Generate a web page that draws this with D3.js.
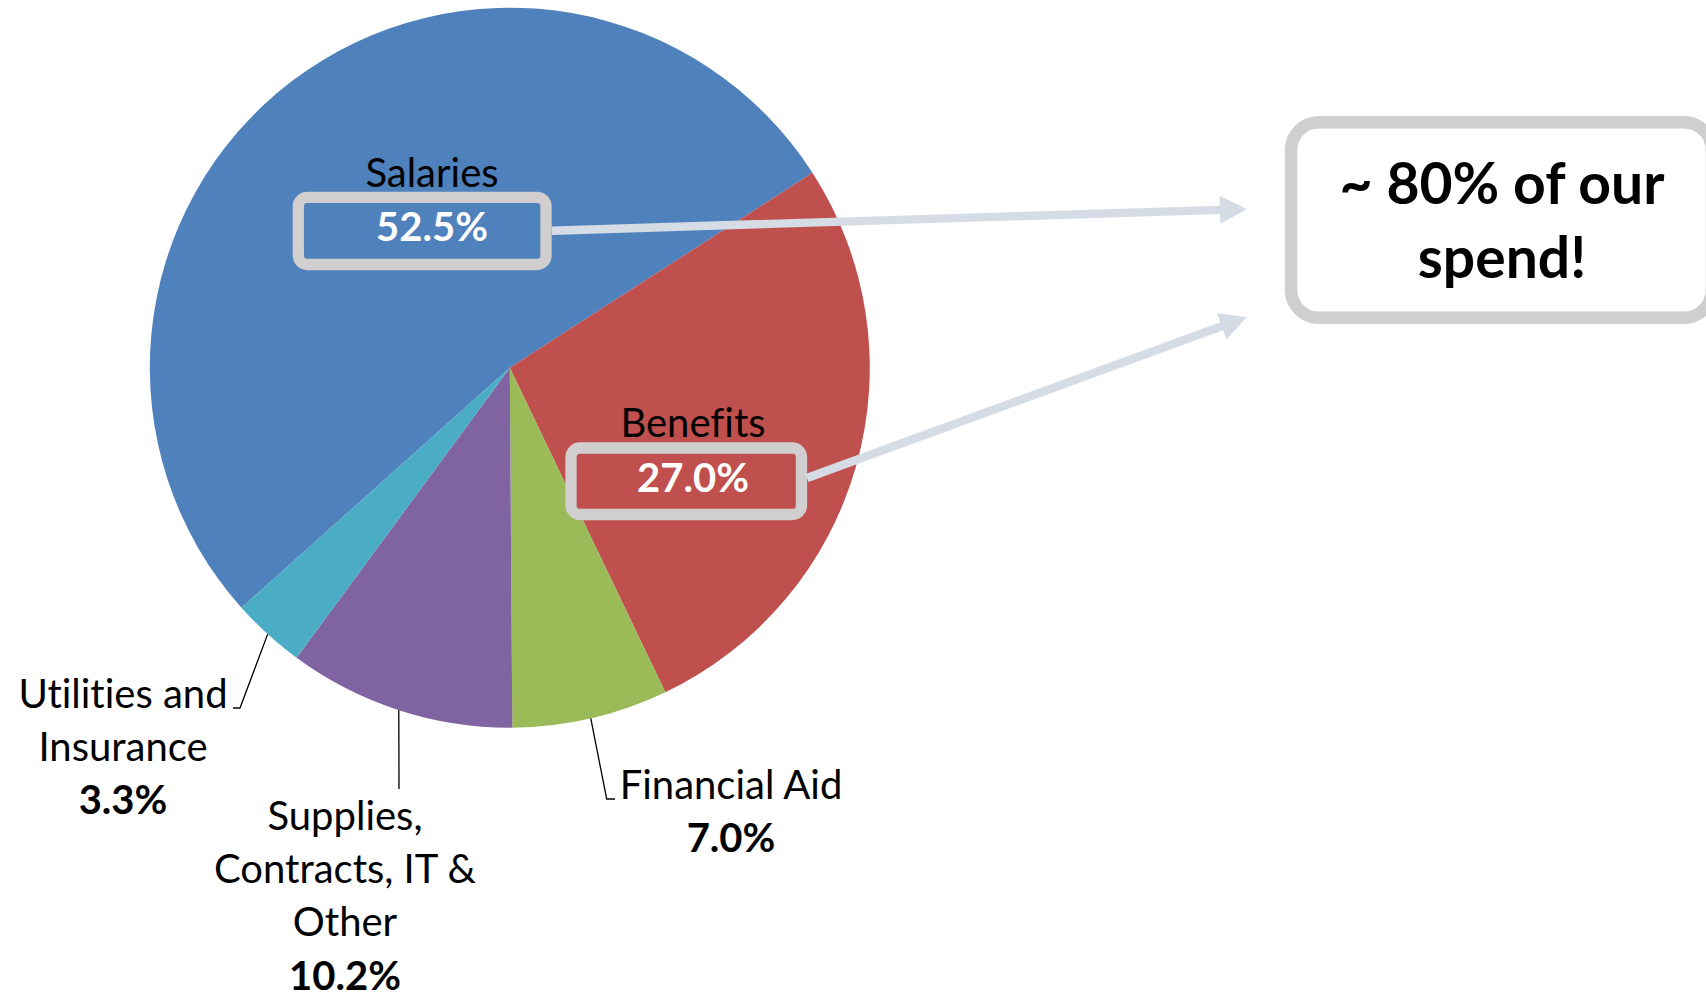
<!DOCTYPE html>
<html><head><meta charset="utf-8">
<script src="https://cdn.jsdelivr.net/npm/d3@7"></script>
<style>body{margin:0;background:#fff}svg{display:block}text{font-variant-ligatures:none;font-feature-settings:"liga" 0,"clig" 0}</style>
</head><body>
<svg id="c" width="1706" height="995"></svg>
<script>
const categories = ["Salaries","Benefits","Financial Aid","Supplies, Contracts, IT & Other","Utilities and Insurance"];
const values = [52.5, 27.0, 7.0, 10.2, 3.3];
const colors = ["#4F81BD","#C0504D","#9BBB59","#8064A2","#4BACC6"];
const labelLines = [["Salaries"],["Benefits"],["Financial Aid"],["Supplies,","Contracts, IT &","Other"],["Utilities and","Insurance"]];
const calloutLines = ["~ 80% of our","spend!"];

const svg = d3.select("#c");
const font = "Lato, 'Noto Sans', sans-serif";
const cx = 509.8, cy = 367.7, R = 360;
const deg = Math.PI/180;
const startA = -131.8*deg;
const pie = d3.pie().sort(null).value(d=>d).startAngle(startA).endAngle(startA+2*Math.PI);
const arcs = pie(values);
const arc = d3.arc().innerRadius(0).outerRadius(R);
const edge = d3.arc().innerRadius(R).outerRadius(R);
const g = svg.append("g").attr("transform",`translate(${cx},${cy})`);
g.selectAll("path.s").data(arcs).join("path").attr("class","s")
  .attr("d",arc).attr("fill",(d,i)=>colors[i]);

const fmt = v => v.toFixed(1)+"%";
const fs = 40;

// inside labels with boxed values
const inside = [
  {i:0, lx:432, ly:187, box:[298.3,197.3,546,264.5], vy:240.5},
  {i:1, lx:693, ly:437, box:[571,448,801.5,514.5], vy:492}
];
inside.forEach(o=>{
  svg.append("text").attr("x",o.lx).attr("y",o.ly).attr("text-anchor","middle")
    .attr("font-family",font).attr("font-size",fs).attr("fill","#000").text(labelLines[o.i][0]);
  const [x0,y0,x1,y1]=o.box;
  svg.append("rect").attr("x",x0).attr("y",y0).attr("width",x1-x0).attr("height",y1-y0)
    .attr("rx",9).attr("fill",colors[o.i]).attr("stroke","#D0CECE").attr("stroke-width",11.3);
  svg.append("text").attr("x",o.lx).attr("y",o.vy).attr("text-anchor","middle")
    .attr("font-family",font).attr("font-weight","bold").attr("font-size",fs).attr("fill","#fff").text(fmt(values[o.i]));
});

// arrows
function arrow(x0,y0,x1,y1){
  const dx=x1-x0, dy=y1-y0, L=Math.hypot(dx,dy), ux=dx/L, uy=dy/L, nx=-uy, ny=ux;
  const hw=4.2, hh=14, hl=27;
  const bx=x1-ux*hl, by=y1-uy*hl;
  const pts=[[x0+nx*hw,y0+ny*hw],[bx+nx*hw,by+ny*hw],[bx+nx*hh,by+ny*hh],[x1,y1],
    [bx-nx*hh,by-ny*hh],[bx-nx*hw,by-ny*hw],[x0-nx*hw,y0-ny*hw]];
  svg.append("polygon").attr("points",pts.map(p=>p.join(",")).join(" ")).attr("fill","#D6DCE5");
}
arrow(551.7,230.7,1247,209);
arrow(807,478,1247,317);

// callout box
svg.append("rect").attr("x",1291).attr("y",122.2).attr("width",421).attr("height",195.6)
  .attr("rx",28).attr("fill","#fff").attr("stroke","#D0CECE").attr("stroke-width",12.5);
calloutLines.forEach((t,k)=>{
  svg.append("text").attr("x",1502).attr("y",204+k*74).attr("text-anchor","middle")
    .attr("font-family",font).attr("font-weight","bold").attr("font-size",57).attr("fill","#000").text(t);
});

// outside labels with leader lines
const outside = [
  {i:2, tx:731, ty:799, elbow:[606.7,799], end:[615,799]},
  {i:3, tx:345, ty:830, elbow:null, end:[399,789]},
  {i:4, tx:123, ty:708, elbow:[240,708], end:[233,708]}
];
const lh = 53.2;
outside.forEach(o=>{
  const p = edge.centroid(arcs[o.i]);
  const pts=[[cx+p[0],cy+p[1]]];
  if(o.elbow) pts.push(o.elbow);
  pts.push(o.end);
  svg.append("path").attr("d",d3.line()(pts)).attr("fill","none").attr("stroke","#000").attr("stroke-width",1.3);
  const lines = labelLines[o.i];
  lines.forEach((t,k)=>{
    svg.append("text").attr("x",o.tx).attr("y",o.ty+k*lh).attr("text-anchor","middle")
      .attr("font-family",font).attr("font-size",fs).attr("fill","#000").text(t);
  });
  svg.append("text").attr("x",o.tx).attr("y",o.ty+lines.length*lh).attr("text-anchor","middle")
    .attr("font-family",font).attr("font-weight","bold").attr("font-size",fs).attr("fill","#000").text(fmt(values[o.i]));
});
</script>
</body></html>
